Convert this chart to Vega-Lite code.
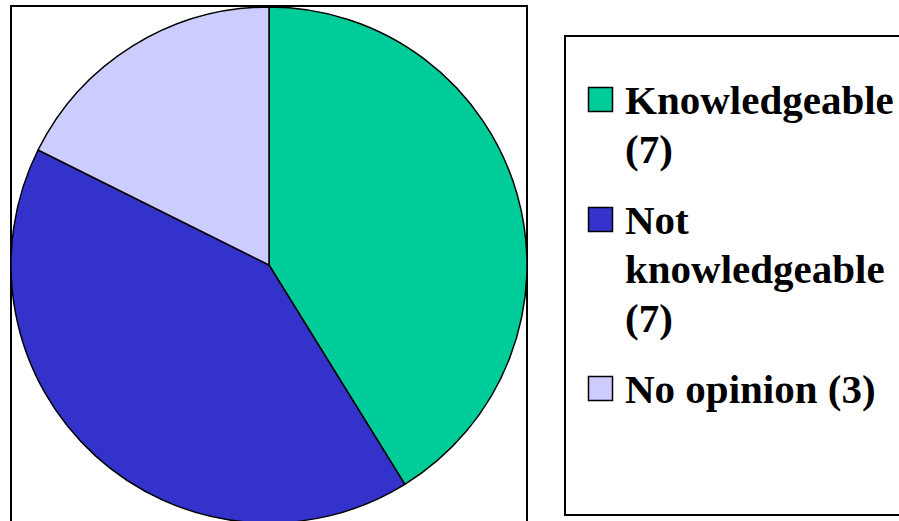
{
  "$schema": "https://vega.github.io/schema/vega-lite/v6.json",
  "width": 516,
  "height": 518,
  "autosize": {"type": "none"},
  "padding": {"left": 11, "top": 6, "right": 372, "bottom": 0},
  "background": "white",
  "view": {"stroke": "black", "strokeWidth": 2},
  "data": {"values": [
    {"category": "Knowledgeable (7)", "count": 7, "order": 1},
    {"category": "Not knowledgeable (7)", "count": 7, "order": 2},
    {"category": "No opinion (3)", "count": 3, "order": 3}
  ]},
  "mark": {"type": "arc", "stroke": "black", "strokeWidth": 1.5},
  "encoding": {
    "theta": {"field": "count", "type": "quantitative", "stack": true},
    "order": {"field": "order", "type": "quantitative"},
    "color": {
      "field": "category",
      "type": "nominal",
      "scale": {
        "domain": ["Knowledgeable (7)", "Not knowledgeable (7)", "No opinion (3)"],
        "range": ["#00CC99", "#3333CC", "#CCCCFF"]
      },
      "legend": {
        "title": " ",
        "titleFontSize": 14,
        "titlePadding": 5,
        "orient": "none",
        "legendX": 554,
        "legendY": 30,
        "direction": "vertical",
        "symbolType": "square",
        "symbolSize": 576,
        "symbolOffset": -9,
        "symbolStrokeColor": "black",
        "symbolStrokeWidth": 1.5,
        "symbolOpacity": 1,
        "labelFont": "Liberation Serif",
        "labelFontSize": 41,
        "labelFontWeight": "bold",
        "labelColor": "black",
        "labelLimit": 0,
        "labelOffset": 4,
        "labelBaseline": "alphabetic",
        "rowPadding": 28,
        "padding": 24,
        "strokeColor": "black",
        "fillColor": "white",
        "labelExpr": "datum.label == 'Knowledgeable (7)' ? ['Knowledgeable', '(7)'] : datum.label == 'Not knowledgeable (7)' ? ['Not', 'knowledgeable', '(7)'] : ['No opinion (3)', '', '']",
        "encode": {
          "labels": {"update": {
            "font": {"value": "Liberation Serif"},
            "fontWeight": {"value": "bold"},
            "dy": {"value": 14},
            "lineHeight": {"signal": "datum.index == 2 ? 40 : 49"}
          }},
          "legend": {"update": {"strokeWidth": {"value": 2}}}
        }
      }
    }
  }
}
